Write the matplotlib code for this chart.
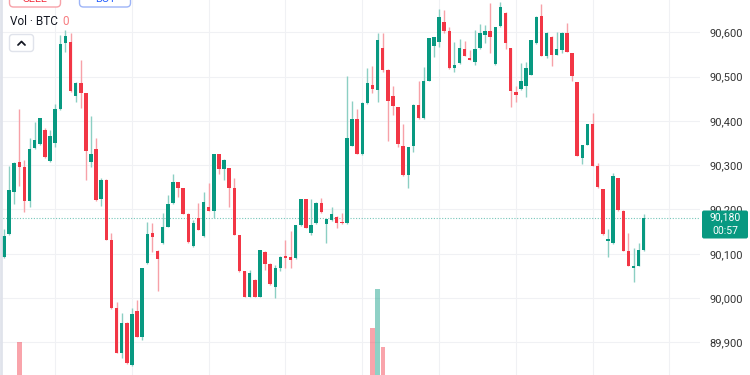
import numpy as np
import matplotlib.pyplot as plt
from matplotlib.patches import FancyBboxPatch

plt.rcParams['font.family'] = ['Roboto', 'DejaVu Sans']

# 1-minute BTC candles
opens = [90093, 90144, 90239, 90308, 90295, 90220, 90338, 90348, 90379, 90310,
         90351, 90427, 90577, 90579, 90456, 90486, 90463, 90308, 90337, 90224,
         90267, 90132, 89978, 89877, 89943, 89849, 89971, 89912, 90080, 90148,
         90107, 90124, 90161, 90214, 90261, 90248, 90190, 90118, 90180, 90140,
         90206, 90197, 90325, 90291, 90293, 90248, 90142, 90060, 90003, 90041,
         90003, 90105, 90078, 90024, 90069, 90095, 90092, 90090, 90164, 90223,
         90148, 90169, 90215, 90167, 90176, 90184, 90171, 90169, 90344, 90404,
         90325, 90440, 90481, 90470, 90565, 90516, 90456, 90431, 90344, 90277,
         90344, 90437, 90406, 90490, 90570, 90579, 90624, 90603, 90519, 90530,
         90562, 90543, 90532, 90564, 90595, 90603, 90528, 90614, 90644, 90564,
         90466, 90471, 90479, 90504, 90575, 90637, 90547, 90590, 90549, 90560,
         90599, 90553, 90487, 90317, 90346, 90393, 90299, 90246, 90129, 90124,
         90270, 90197, 90106, 90069, 90073, 90108]
highs = [90157, 90298, 90308, 90426, 90311, 90361, 90398, 90406, 90383, 90379,
         90438, 90594, 90605, 90598, 90487, 90538, 90464, 90410, 90361, 90270,
         90268, 90146, 89992, 89966, 89945, 89977, 89996, 90068, 90172, 90170,
         90108, 90191, 90233, 90280, 90262, 90249, 90191, 90176, 90214, 90239,
         90259, 90326, 90326, 90315, 90294, 90270, 90143, 90061, 90063, 90042,
         90109, 90106, 90079, 90075, 90094, 90131, 90152, 90165, 90224, 90224,
         90224, 90218, 90225, 90178, 90205, 90185, 90193, 90501, 90446, 90426,
         90443, 90519, 90525, 90598, 90598, 90517, 90479, 90432, 90393, 90342,
         90438, 90489, 90522, 90588, 90589, 90652, 90650, 90611, 90579, 90586,
         90580, 90560, 90605, 90619, 90617, 90667, 90613, 90668, 90645, 90565,
         90479, 90530, 90534, 90583, 90636, 90665, 90600, 90591, 90601, 90601,
         90622, 90554, 90488, 90346, 90394, 90417, 90306, 90247, 90155, 90283,
         90271, 90198, 90148, 90112, 90124, 90189]
lows = [90090, 90142, 90212, 90252, 90194, 90205, 90336, 90346, 90316, 90308,
        90342, 90425, 90556, 90466, 90443, 90430, 90267, 90297, 90220, 90209,
        90130, 89975, 89875, 89864, 89852, 89847, 89911, 89905, 90077, 90103,
        90016, 90122, 90160, 90213, 90229, 90189, 90125, 90116, 90153, 90139,
        90197, 90180, 90280, 90267, 90206, 90142, 90059, 90002, 90002, 90002,
        90002, 90063, 90030, 90001, 90060, 90069, 90067, 90089, 90163, 90158,
        90142, 90168, 90193, 90125, 90175, 90159, 90168, 90168, 90343, 90325,
        90324, 90439, 90464, 90443, 90511, 90355, 90413, 90342, 90276, 90249,
        90330, 90405, 90405, 90489, 90544, 90568, 90599, 90518, 90511, 90529,
        90547, 90537, 90526, 90563, 90575, 90553, 90527, 90613, 90562, 90431,
        90442, 90470, 90455, 90503, 90574, 90546, 90541, 90525, 90548, 90553,
        90556, 90490, 90320, 90302, 90345, 90298, 90249, 90143, 90092, 90123,
        90197, 90106, 90072, 90037, 90072, 90107]
closes = [90141, 90243, 90304, 90295, 90220, 90337, 90357, 90406, 90318, 90366,
          90427, 90574, 90592, 90468, 90486, 90464, 90331, 90325, 90221, 90267,
          90131, 89977, 89877, 89944, 89854, 89963, 89913, 90067, 90145, 90139,
          90089, 90161, 90212, 90261, 90249, 90190, 90126, 90169, 90154, 90216,
          90197, 90325, 90292, 90312, 90248, 90143, 90060, 90003, 90057, 90003,
          90108, 90078, 90031, 90069, 90093, 90091, 90086, 90164, 90223, 90159,
          90166, 90214, 90194, 90178, 90189, 90170, 90169, 90362, 90404, 90326,
          90440, 90485, 90471, 90583, 90515, 90445, 90434, 90347, 90277, 90342,
          90437, 90406, 90490, 90588, 90589, 90634, 90603, 90519, 90526, 90564,
          90547, 90538, 90562, 90598, 90603, 90590, 90613, 90658, 90577, 90468,
          90458, 90490, 90519, 90583, 90635, 90547, 90599, 90549, 90562, 90599,
          90556, 90501, 90321, 90346, 90393, 90299, 90250, 90144, 90133, 90276,
          90198, 90107, 90073, 90073, 90108, 90180]

# only these volume bars reach into the visible area
vol_idx = [3, 72, 73, 74]
vol_vals = [5.8, 7.2, 11.1, 5.3]

price_ticks = [89900, 90000, 90100, 90200, 90300, 90400, 90500, 90600]
price_labels = ['89,900', '90,000', '90,100', '90,200', '90,300', '90,400',
                '90,500', '90,600']
time_grid = [10, 25, 40, 55, 70, 85, 100, 115, 130]
last_price = '90,180'
countdown = '00:57'

green = '#089981'
red = '#f23645'
green_wick = '#8ccfc3'
red_wick = '#f7a1a8'

o = np.array(opens)
h = np.array(highs)
l = np.array(lows)
c = np.array(closes)
x = np.arange(len(o))
up = c >= o

fig = plt.figure(figsize=(7.5, 3.75), dpi=100)
fig.patch.set_facecolor('white')

xmin, xmax = -0.78, 135.99
ymin, ymax = 89826.3, 90673

# main price pane
ax = fig.add_axes([0, 0, 700 / 750, 1])
ax.set_facecolor('none')
for s in ax.spines.values():
    s.set_visible(False)
ax.set_yticks(price_ticks)
ax.set_yticklabels(price_labels)
ax.yaxis.tick_right()
ax.tick_params(axis='y', length=0, pad=7, labelsize=8, labelcolor='#333333')
ax.set_xticks(time_grid)
ax.tick_params(axis='x', length=0, labelbottom=False)
ax.grid(True, color='#f0f1f4', lw=0.8)
ax.set_axisbelow(True)

# wicks then bodies
ax.vlines(x[up], l[up], h[up], color=green_wick, lw=1, zorder=2)
ax.vlines(x[~up], l[~up], h[~up], color=red_wick, lw=1, zorder=2)
body = np.maximum(np.abs(c - o), 2.2)
ax.bar(x[up], body[up], bottom=np.minimum(o, c)[up], width=0.68, color=green, zorder=3)
ax.bar(x[~up], body[~up], bottom=np.minimum(o, c)[~up], width=0.68, color=red, zorder=3)

# current price line
ax.axhline(closes[-1], color=green, alpha=0.55, lw=0.8, ls=(0, (1, 1.5)), zorder=1)
ax.set_xlim(xmin, xmax)
ax.set_ylim(ymin, ymax)

# volume pane (its zero sits below the visible area)
vax = fig.add_axes([0, -25 / 375, 700 / 750, 120 / 375])
vax.axis('off')
vcol = [green if up[i] else red for i in vol_idx]
vax.bar(vol_idx, vol_vals, width=0.85, color=vcol, alpha=0.45)
vax.set_xlim(xmin, xmax)
vax.set_ylim(0, 12)

# overlay for the UI bits, in pixel units
ui = fig.add_axes([0, 0, 1, 1])
ui.set_xlim(0, 750)
ui.set_ylim(375, 0)
ui.axis('off')

ui.plot([1, 1], [0, 375], color='#e0e3eb', lw=2)

ui.add_patch(FancyBboxPatch((9.5, -12), 51, 19, boxstyle='round,pad=0,rounding_size=4',
                            fc='white', ec='#f7a1a8', lw=1))
ui.add_patch(FancyBboxPatch((79.5, -12), 51, 19, boxstyle='round,pad=0,rounding_size=4',
                            fc='white', ec='#9db4f7', lw=1))
ui.text(35, 2.5, 'SELL', color=red, fontsize=8, ha='center', va='baseline')
ui.text(105, 2.5, 'BUY', color='#2962ff', fontsize=8, ha='center', va='baseline')

ui.text(10, 25, 'Vol · BTC', color='#131722', fontsize=8.5, ha='left', va='baseline')
ui.text(62, 25, '0', color='#f77c80', fontsize=8.5, ha='left', va='baseline')

ui.add_patch(FancyBboxPatch((9.5, 34.5), 24, 17, boxstyle='round,pad=0,rounding_size=3',
                            fc='white', ec='#e0e3eb', lw=1))
ui.plot([18, 21.5, 25], [45, 41.5, 45], color='#131722', lw=1.3, solid_capstyle='round')

# last price tag
ui.add_patch(FancyBboxPatch((702, 210.5), 46, 28, boxstyle='round,pad=0,rounding_size=2',
                            fc=green, ec='none'))
ui.text(725, 217.5, last_price, color='white', fontsize=7.5, ha='center', va='center')
ui.text(725, 231, countdown, color='white', fontsize=7.5, ha='center', va='center')

plt.savefig('out.png', dpi=100)
